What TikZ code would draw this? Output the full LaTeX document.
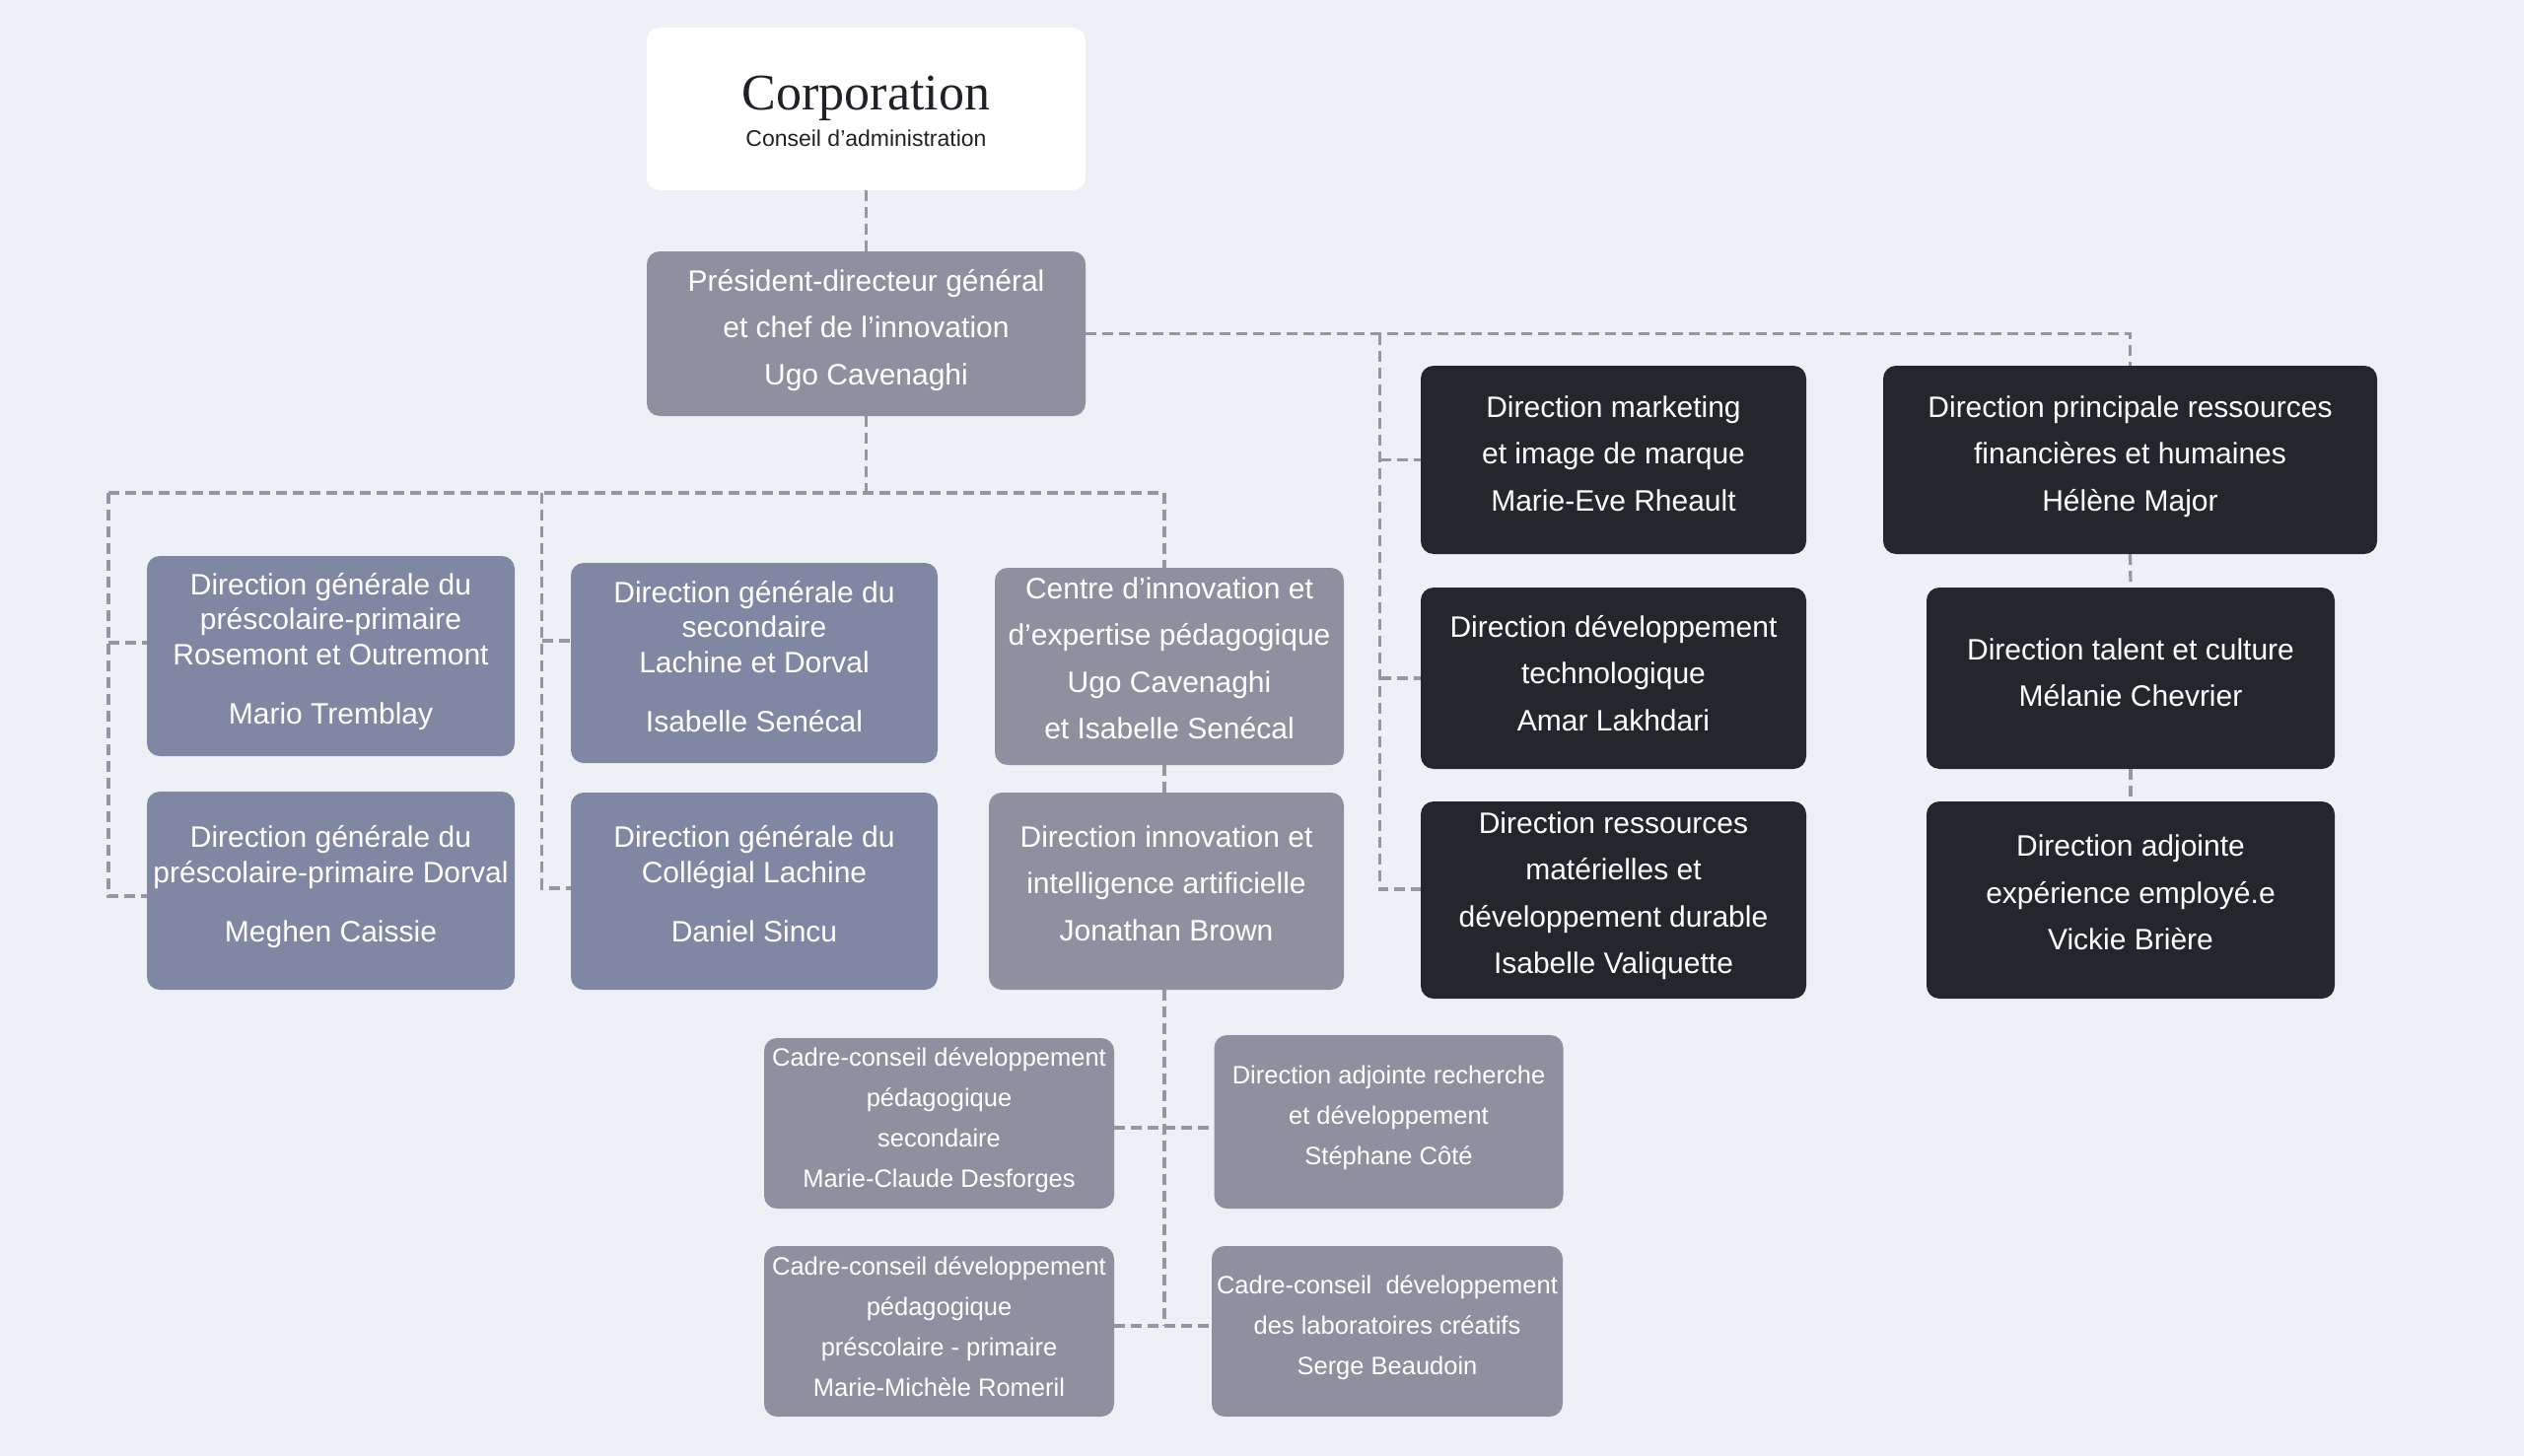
\documentclass[tikz,border=0pt]{standalone}
\usepackage{fontspec}
\setmainfont{Liberation Sans}
\newfontfamily\corpserif{Liberation Serif}
\definecolor{bg}{HTML}{EDF0F5}
\definecolor{boxgrey}{HTML}{8E90A0}
\definecolor{boxblue}{HTML}{7F87A3}
\definecolor{boxdark}{HTML}{23262B}
\definecolor{linegrey}{HTML}{9496A3}
\definecolor{corptext}{HTML}{1F2126}
\newcommand\lns[1]{\begin{tabular}[t]{@{}c@{}}#1\end{tabular}}
\tikzset{
  box/.style={rounded corners=13pt, inner sep=0pt, draw=none},
  greybox/.style={box, fill=boxgrey},
  bluebox/.style={box, fill=boxblue},
  darkbox/.style={box, fill=boxdark},
  whitebox/.style={box, fill=white},
  txt/.style={anchor=base, inner sep=0pt, text=white},
  big/.style={font=\fontsize{30}{47.5}\selectfont},
  mid/.style={font=\fontsize{30}{35.5}\selectfont},
  sml/.style={font=\fontsize{25.5}{41}\selectfont},
  conn/.style={draw=linegrey, line width=3.2pt, dash pattern=on 11pt off 6pt},
}
\begin{document}
\begin{tikzpicture}[x=1pt, y=-1pt]
\fill[bg] (0,0) rectangle (2560,1477);
\useasboundingbox (0,0) rectangle (2560,1477);

% ---- boxes ----
\node[whitebox, minimum width=445pt, minimum height=165pt] (corp) at (878.5,110.5) {};
\node[anchor=base, inner sep=0pt, text=corptext, font=\corpserif\fontsize{52}{52}\selectfont] (corpname) at (878.5,112) {Corporation};
\node[anchor=base, inner sep=0pt, text=corptext, font=\fontsize{23}{23}\selectfont] (corpsub) at (878.5,149) {Conseil d’administration};

\node[greybox, minimum width=445pt, minimum height=167pt] (pdg) at (878.5,338.5) {};
\node[txt, big] (pdgt) at (878.5,295) {\lns{Président-directeur général\\et chef de l’innovation\\Ugo Cavenaghi}};

\node[bluebox, minimum width=373pt, minimum height=203pt] (b1) at (335.5,665.5) {};
\node[txt, mid] (b1t) at (335.5,603) {\lns{Direction générale du\\préscolaire-primaire\\Rosemont et Outremont\\[24.5pt]Mario Tremblay}};

\node[bluebox, minimum width=373pt, minimum height=201pt] (b2) at (335.5,903.5) {};
\node[txt, mid] (b2t) at (335.5,859.5) {\lns{Direction générale du\\préscolaire-primaire Dorval\\[24.5pt]Meghen Caissie}};

\node[bluebox, minimum width=372pt, minimum height=203pt] (b3) at (765,672.5) {};
\node[txt, mid] (b3t) at (765,611) {\lns{Direction générale du\\secondaire\\Lachine et Dorval\\[24.5pt]Isabelle Senécal}};

\node[bluebox, minimum width=372pt, minimum height=200pt] (b4) at (765,904) {};
\node[txt, mid] (b4t) at (765,859.5) {\lns{Direction générale du\\Collégial Lachine\\[24.5pt]Daniel Sincu}};

\node[greybox, minimum width=354pt, minimum height=200pt] (centre) at (1186,676) {};
\node[txt, big] (centret) at (1186,607) {\lns{Centre d’innovation et\\d’expertise pédagogique\\Ugo Cavenaghi\\et Isabelle Senécal}};

\node[greybox, minimum width=360pt, minimum height=200pt] (ia) at (1183,904) {};
\node[txt, big] (iat) at (1183,859) {\lns{Direction innovation et\\intelligence artificielle\\Jonathan Brown}};

\node[greybox, minimum width=355pt, minimum height=173pt] (cs) at (952.5,1139.5) {};
\node[txt, sml] (cst) at (952.5,1081.5) {\lns{Cadre-conseil développement\\pédagogique\\secondaire\\Marie-Claude Desforges}};

\node[greybox, minimum width=355pt, minimum height=173pt] (cp) at (952.5,1350.5) {};
\node[txt, sml] (cpt) at (952.5,1293) {\lns{Cadre-conseil développement\\pédagogique\\préscolaire - primaire\\Marie-Michèle Romeril}};

\node[greybox, minimum width=354pt, minimum height=176pt] (dr) at (1408.5,1138) {};
\node[txt, sml] (drt) at (1408.5,1099.5) {\lns{Direction adjointe recherche\\et développement\\Stéphane Côté}};

\node[greybox, minimum width=356pt, minimum height=173pt] (cl) at (1407,1350.5) {};
\node[txt, sml] (clt) at (1407,1312.5) {\lns{Cadre-conseil\ \ développement\\des laboratoires créatifs\\Serge Beaudoin}};

\node[darkbox, minimum width=391pt, minimum height=191pt] (mk) at (1636.5,466.5) {};
\node[txt, big] (mkt) at (1636.5,423) {\lns{Direction marketing\\et image de marque\\Marie-Eve Rheault}};

\node[darkbox, minimum width=391pt, minimum height=184pt] (dt) at (1636.5,688) {};
\node[txt, big] (dtt) at (1636.5,646) {\lns{Direction développement\\technologique\\Amar Lakhdari}};

\node[darkbox, minimum width=391pt, minimum height=200pt] (rm) at (1636.5,913) {};
\node[txt, big] (rmt) at (1636.5,845) {\lns{Direction ressources\\matérielles et\\développement durable\\Isabelle Valiquette}};

\node[darkbox, minimum width=501pt, minimum height=191pt] (rh) at (2160.5,466.5) {};
\node[txt, big] (rht) at (2160.5,423) {\lns{Direction principale ressources\\financières et humaines\\Hélène Major}};

\node[darkbox, minimum width=414pt, minimum height=184pt] (tc) at (2161,688) {};
\node[txt, big] (tct) at (2161,669) {\lns{Direction talent et culture\\Mélanie Chevrier}};

\node[darkbox, minimum width=414pt, minimum height=200pt] (ad) at (2161,913) {};
\node[txt, big] (adt) at (2161,868.5) {\lns{Direction adjointe\\expérience employé.e\\Vickie Brière}};

% ---- connectors ----
\coordinate (jl) at (110,500);
\coordinate (jm) at (549.5,500);
\coordinate (jc) at (1181,500);
\coordinate (jb) at (1181,1345);
\coordinate (jr) at (1399.5,338.5);
\coordinate (b1in) at ([yshift=13.5pt]b1.west);
\coordinate (b2in) at ([yshift=-5.5pt]b2.west);
\coordinate (b3in) at ([yshift=22.5pt]b3.west);
\coordinate (b4in) at ([yshift=3pt]b4.west);
\coordinate (csout) at ([yshift=-4.5pt]cs.east);
\coordinate (cpout) at ([yshift=5.5pt]cp.east);
\coordinate (rmin) at ([yshift=11pt]rm.west);

\draw[conn] (corp.south) -- (pdg.north);
\draw[conn] (pdg.south) -- (pdg.south |- jc);
\draw[conn] (jl) -- (jc) -- (jc |- centre.north);
\draw[conn] (jl) |- (b2in);
\draw[conn] (jl |- b1in) -- (b1in);
\draw[conn] (jm) |- (b4in);
\draw[conn] (jm |- b3in) -- (b3in);
\draw[conn] (centre.south -| jc) -- (ia.north -| jc);
\draw[conn] (ia.south -| jc) -- (jb);
\draw[conn] (csout) -- (csout -| dr.west);
\draw[conn] (cpout) -- (cpout -| cl.west);
\draw[conn] (pdg.east) -| (rh.north);
\draw[conn] (jr) |- (rmin);
\draw[conn] (jr |- mk.west) -- (mk.west);
\draw[conn] (jr |- dt.west) -- (dt.west);
\draw[conn] (rh.south) -- (tc.north);
\draw[conn] (tc.south) -- (ad.north);
\end{tikzpicture}
\end{document}
